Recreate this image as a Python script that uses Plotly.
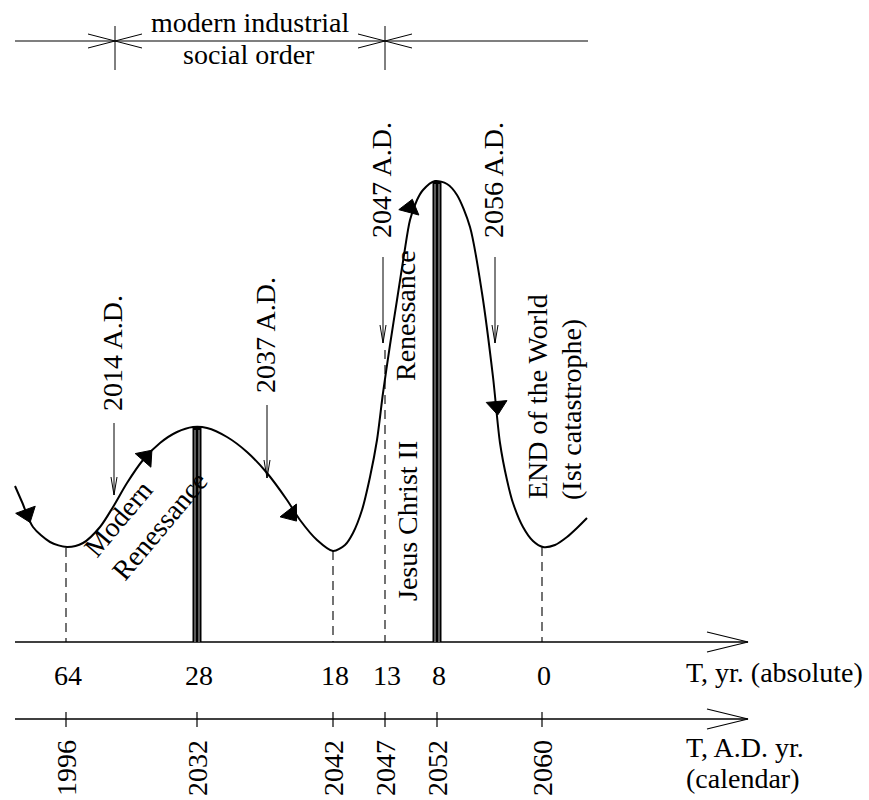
import plotly.graph_objects as go

# ---- data (schematic drawing coordinates) ----
calendar_years = [1996, 2032, 2042, 2047, 2052, 2060]
absolute_years = [64, 28, 18, 13, 8, 0]
tick_pos = [66, 197, 333, 385, 437, 542]          # schematic position of each year on the time axes

curve_x = [15, 22, 33, 50, 67, 83, 100, 113, 127, 143, 160, 177, 193, 207, 227, 247, 267, 287,
           300, 317, 333, 345, 353, 362, 370, 377, 383, 390, 397, 404, 410, 417, 423, 435, 447,
           457, 470, 482, 493, 500, 507, 513, 523, 533, 543, 555, 567, 577, 587]
curve_y = [486, 502, 527, 542, 547, 543, 527, 507, 483, 460, 443, 432, 427, 428, 437, 452, 473, 500,
           520, 540, 551, 545, 533, 510, 477, 440, 393, 345, 300, 255, 220, 200, 190, 181, 184,
           195, 227, 293, 377, 443, 480, 503, 527, 541, 547, 545, 537, 528, 518]

# direction arrowheads along the curve
dir_x = [27, 146, 291, 410, 497]
dir_y = [514, 457, 514, 208, 406]
dir_angle = [160, 41, 142, 15, 175]

# peaks (thick bars) and minima (dashed guides)
peak_x = [197, 437]
peak_y = [427, 181]
guide_x = [66, 333, 385, 542]
guide_top = [548, 551, 350, 547]

# event pointers
event_labels = ["2014 A.D.", "2037 A.D.", "2047 A.D.", "2056 A.D."]
event_x = [114, 267, 383, 495]
event_top = [423, 405, 257, 257]
event_bottom = [495, 478, 343, 343]
event_label_y = [353, 335, 180, 180]

# top dimension line
era_bounds = [115, 385]
era_text = ["modern industrial", "social order"]

AX1, AX2 = 642, 719
FONT = dict(family="Liberation Serif, Times New Roman, serif", size=28, color="black")

fig = go.Figure()

def line(xs, ys, width=1.2, dash=None, color="black"):
    fig.add_trace(go.Scatter(x=xs, y=ys, mode="lines", hoverinfo="skip",
                             line=dict(color=color, width=width, dash=dash), showlegend=False))

# main curve
fig.add_trace(go.Scatter(x=curve_x, y=curve_y, mode="lines", line=dict(color="black", width=2, shape="spline", smoothing=0.8),
                         hoverinfo="skip", showlegend=False))
fig.add_trace(go.Scatter(x=dir_x, y=dir_y, mode="markers", hoverinfo="skip", showlegend=False,
                         marker=dict(symbol="triangle-up", size=18, color="black", angle=dir_angle,
                                     line=dict(color="black", width=1))))

# time axes
for ay in (AX1, AX2):
    line([15, 748], [ay, ay], width=1.4)
    line([707, 748, 707], [ay - 10, ay, ay + 10], width=1.2)
for tx in tick_pos:
    line([tx, tx], [AX2 - 7, AX2 + 8], width=1.2)

# dashed guides
for gx, gt in zip(guide_x, guide_top):
    line([gx, gx], [gt, AX1], width=1.1, dash="9px,6px")

# thick bars at peaks
for px, py in zip(peak_x, peak_y):
    line([px, px], [py, AX1], width=9)
    line([px - 2, px - 2], [py + 3, AX1], width=0.7, color="white")
    line([px + 2, px + 2], [py + 3, AX1], width=0.7, color="white")

# event arrows
for ex, et, eb in zip(event_x, event_top, event_bottom):
    line([ex, ex], [et, eb], width=1)
    line([ex - 3, ex, ex + 3], [eb - 18, eb, eb - 18], width=1)

# top dimension line
line([15, 588], [41, 41], width=1.1)
for bx in era_bounds:
    line([bx, bx], [26, 70], width=1)
    line([bx - 27, bx, bx - 27], [34, 41, 48], width=1)
    line([bx + 27, bx, bx + 27], [34, 41, 48], width=1)

ann = []
def text(t, x, y, angle=0, xa="center", ya="middle", align="center"):
    ann.append(dict(text=t, x=x, y=y, xref="x", yref="y", showarrow=False, textangle=angle,
                    xanchor=xa, yanchor=ya, align=align, font=FONT))

text(era_text[0], 250, 22)
text(era_text[1], 249, 54)
for lab, x, y in zip(event_labels, event_x, event_label_y):
    text(lab, x - 2, y, angle=-90)
for a, x in zip(absolute_years, tick_pos):
    text(str(a), x + 2, 675)
for c, x in zip(calendar_years, tick_pos):
    text(str(c), x, 768, angle=-90)
text("T, yr. (absolute)", 684, 672, xa="left")
text("T, A.D. yr.", 684, 747, xa="left")
text("(calendar)", 684, 778, xa="left")
text("Modern<br>Renessance", 145, 514, angle=-50, align="left")
text("Renessance", 405, 316, angle=-90)
text("Jesus Christ II", 407, 521, angle=-90)
text("END of the World", 537, 397, angle=-90)
text("(Ist catastrophe)", 571, 410, angle=-90)

fig.update_layout(
    width=869, height=800, margin=dict(l=0, r=0, t=0, b=0),
    paper_bgcolor="white", plot_bgcolor="white",
    xaxis=dict(range=[0, 869], visible=False, fixedrange=True),
    yaxis=dict(range=[800, 0], visible=False, fixedrange=True),
    annotations=ann, showlegend=False,
)
fig.write_html("out.html", config={"displayModeBar": False},
               post_script="document.body.style.margin='0';document.body.style.padding='0';document.body.style.overflow='hidden';")
